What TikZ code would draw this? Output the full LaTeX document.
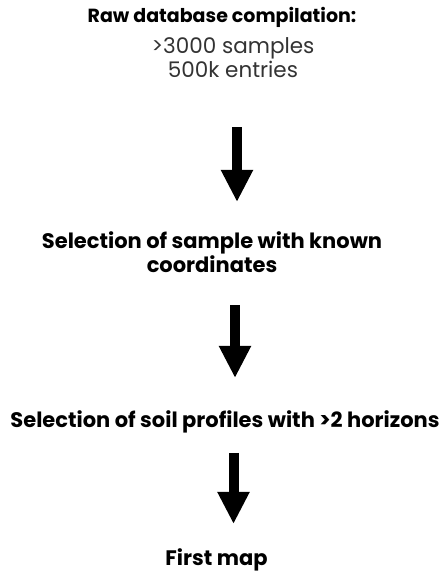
\documentclass[tikz,border=0pt]{standalone}
\usepackage{fontspec}
\setmainfont{Poppins}
\usepackage{tikz}
\usetikzlibrary{arrows.meta, positioning}

\begin{document}
\begin{tikzpicture}[
  x=1pt, y=1pt,
  stepbox/.style={inner sep=0pt, align=center, font=\fontsize{21}{24}\selectfont\bfseries},
  head/.style={stepbox, font=\fontsize{19}{24}\selectfont\bfseries},
  note/.style={inner sep=0pt, align=center, font=\fontsize{21.5}{24}\selectfont, text=black!80},
  flow/.style={-{Triangle[length=32pt, width=30pt]}, line width=10pt, black}
]
  \useasboundingbox (0, 0) rectangle (444, -571);

  % Start
  \node[head, anchor=base] (raw) at (222, -22) {Raw database compilation:};
  \node[note, anchor=base] (info) at (233, -77) {>3000 samples\\500k entries};

  % Step 1
  \node[stepbox, anchor=base] (coords) at (212, -272) {Selection of sample with known\\coordinates};

  % Step 2
  \node[stepbox, anchor=base] (horizons) at (225, -427) {Selection of soil profiles with >2 horizons};

  % Result
  \node[stepbox, anchor=base] (map) at (216.5, -565) {First map};

  \draw[flow, shorten <=50pt, shorten >=29pt] ([xshift=4pt]info.south) -- ([xshift=25pt]coords.north);
  \draw[flow, shorten <=33pt, shorten >=32pt] ([xshift=23pt]coords.south) -- ([xshift=10pt]horizons.north);
  \draw[flow, shorten <=20pt, shorten >=24pt] ([xshift=8.5pt]horizons.south) -- ([xshift=17pt]map.north);
\end{tikzpicture}
\end{document}
